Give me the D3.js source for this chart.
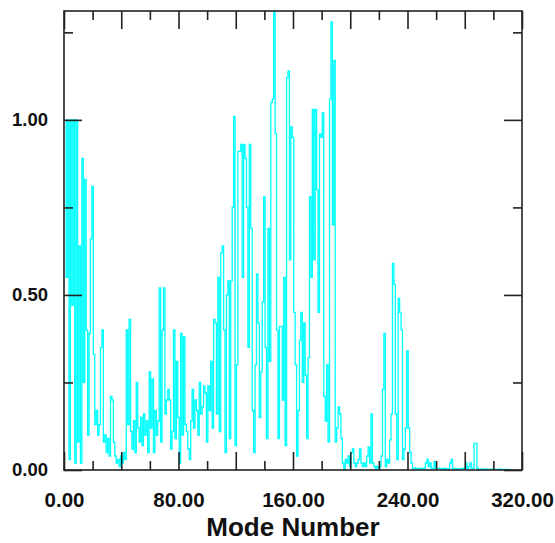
<!DOCTYPE html>
<html>
<head>
<meta charset="utf-8">
<script src="https://cdn.jsdelivr.net/npm/d3@7"></script>
<style>
  html, body { margin: 0; padding: 0; background: #fff; }
  svg { display: block; }
</style>
</head>
<body>
<svg id="chart" width="555" height="543"></svg>
<script>
// ---- data ----
const xLabel = "Mode Number";
const xMajorTicks = [0, 40, 80, 120, 160, 200, 240, 280, 320];
const xMinorTicks = [20, 60, 100, 140, 180, 220, 260, 300];
const xLabelTicks = [0, 80, 160, 240, 320];
const yMajorTicks = [0, 0.5, 1.0];
const yMinorTicks = [0.25, 0.75, 1.25];
// value for mode 1, 2, 3, ...
const modeValues = [
  1.00, 0.55, 1.00, 0.03, 1.00, 0.47, 1.00, 0.02, 1.00, 0.08,
  0.64, 0.02, 0.89, 0.25, 0.83, 0.40, 0.10, 0.39, 0.66, 0.81,
  0.33, 0.13, 0.17, 0.10, 0.13, 0.35, 0.40, 0.08, 0.10, 0.05,
  0.09, 0.04, 0.21, 0.20, 0.08, 0.04, 0.02, 0.03, 0.01, 0.04,
  0.02, 0.05, 0.03, 0.40, 0.13, 0.43, 0.11, 0.06, 0.14, 0.05,
  0.25, 0.12, 0.08, 0.15, 0.07, 0.16, 0.10, 0.14, 0.05, 0.28,
  0.12, 0.26, 0.05, 0.17, 0.10, 0.14, 0.52, 0.08, 0.40, 0.52,
  0.16, 0.20, 0.23, 0.20, 0.06, 0.11, 0.40, 0.09, 0.31, 0.15,
  0.02, 0.39, 0.10, 0.38, 0.13, 0.11, 0.06, 0.03, 0.14, 0.23,
  0.12, 0.20, 0.17, 0.10, 0.25, 0.16, 0.18, 0.24, 0.22, 0.08,
  0.24, 0.17, 0.31, 0.12, 0.43, 0.42, 0.16, 0.55, 0.11, 0.62,
  0.64, 0.40, 0.05, 0.50, 0.54, 0.09, 0.54, 0.75, 1.01, 0.07,
  0.30, 0.91, 0.91, 0.93, 0.55, 0.93, 0.89, 0.75, 0.35, 0.93,
  0.69, 0.17, 0.05, 0.30, 0.56, 0.42, 0.15, 0.28, 0.48, 0.78,
  0.35, 0.09, 0.69, 0.31, 1.05, 1.06, 1.35, 0.96, 0.40, 0.09,
  0.41, 0.41, 0.20, 0.55, 0.07, 1.12, 1.14, 0.60, 0.98, 0.95,
  0.45, 0.30, 0.04, 0.17, 0.37, 0.45, 0.25, 0.42, 0.27, 0.09,
  0.32, 0.78, 0.55, 1.03, 0.60, 1.03, 0.80, 0.45, 0.96, 0.95,
  1.02, 0.21, 0.14, 0.30, 0.08, 1.06, 1.28, 0.70, 1.17, 0.08,
  0.12, 0.18, 0.16, 0.09, 0.02, 0.00, 0.03, 0.02, 0.04, 0.01,
  0.05, 0.06, 0.02, 0.01, 0.02, 0.03, 0.06, 0.02, 0.01, 0.02,
  0.01, 0.04, 0.066, 0.02, 0.16, 0.02, 0.01, 0.005, 0.01, 0.005,
  0.01, 0.04, 0.23, 0.39, 0.01, 0.03, 0.02, 0.086, 0.16, 0.59,
  0.53, 0.16, 0.03, 0.49, 0.45, 0.40, 0.03, 0.06, 0.12, 0.34,
  0.12, 0.05, 0.02, 0.005, 0.003, 0.006, 0.004, 0.003, 0.005, 0.004,
  0.003, 0.005, 0.02, 0.03, 0.01, 0.02, 0.005, 0.004, 0.024, 0.004,
  0.003, 0.005, 0.004, 0.003, 0.004, 0.005, 0.003, 0.004, 0.003, 0.02,
  0.03, 0.005, 0.004, 0.003, 0.004, 0.003, 0.004, 0.003, 0.005, 0.004,
  0.02, 0.005, 0.01, 0.02, 0.005, 0.005, 0.076, 0.076, 0.005, 0.002,
  0.002, 0.003, 0.002, 0.002, 0.003, 0.002, 0.002, 0.002, 0.003, 0.002,
  0.002, 0.002, 0.002, 0.003, 0.002, 0.002, 0.002, 0.002, 0.002, 0.002,
  0.002, 0.002
];

// ---- layout ----
const mLeft = 64, mRight = 522, mTop = 11, mBottom = 470;
const svg = d3.select("#chart");
const x = d3.scaleLinear().domain([0, 320]).range([mLeft, mRight]);
const y = d3.scaleLinear().domain([0, 1.311]).range([mBottom, mTop]);

const data = modeValues.map((v, i) => ({ m: i + 1, v }));

svg.append("defs").append("clipPath").attr("id", "clip")
  .append("rect").attr("x", mLeft).attr("y", mTop)
  .attr("width", mRight - mLeft).attr("height", mBottom - mTop);

svg.append("path")
  .datum(data)
  .attr("clip-path", "url(#clip)")
  .attr("fill", "none")
  .attr("stroke", "#00FFFF")
  .attr("stroke-width", 1.3)
  .attr("stroke-linejoin", "miter")
  .attr("d", d3.line().curve(d3.curveStep).x(d => x(d.m)).y(d => y(d.v)));

const font = "'Liberation Sans', Arial, Helvetica, sans-serif";
const axisColor = "#222";

function styleAxis(g, size) {
  g.select(".domain").remove();
  g.selectAll("line").attr("stroke", axisColor).attr("stroke-width", 1.6);
  g.selectAll("text").attr("fill", "#111").style("font-family", font)
    .style("font-size", (size || 18) + "px").style("font-weight", "bold");
}

const fmt = d => xLabelTicks.includes(d) ? d.toFixed(2) : "";

svg.append("g").attr("transform", `translate(0,${mBottom})`)
  .call(d3.axisBottom(x).tickValues(xMajorTicks).tickSize(-18).tickPadding(22).tickFormat(fmt))
  .call(g => styleAxis(g, 20.5));
svg.append("g").attr("transform", `translate(0,${mBottom})`)
  .call(d3.axisBottom(x).tickValues(xMinorTicks).tickSize(-9).tickFormat(""))
  .call(styleAxis);
svg.append("g").attr("transform", `translate(0,${mTop})`)
  .call(d3.axisTop(x).tickValues(xMajorTicks).tickSize(-18).tickFormat(""))
  .call(styleAxis);
svg.append("g").attr("transform", `translate(0,${mTop})`)
  .call(d3.axisTop(x).tickValues(xMinorTicks).tickSize(-9).tickFormat(""))
  .call(styleAxis);

svg.append("g").attr("transform", `translate(${mLeft},0)`)
  .call(d3.axisLeft(y).tickValues(yMajorTicks).tickSize(-18).tickPadding(16).tickFormat(d => d.toFixed(2)))
  .call(g => styleAxis(g, 18.5));
svg.append("g").attr("transform", `translate(${mLeft},0)`)
  .call(d3.axisLeft(y).tickValues(yMinorTicks).tickSize(-9).tickFormat(""))
  .call(styleAxis);
svg.append("g").attr("transform", `translate(${mRight},0)`)
  .call(d3.axisRight(y).tickValues(yMajorTicks).tickSize(-18).tickFormat(""))
  .call(styleAxis);
svg.append("g").attr("transform", `translate(${mRight},0)`)
  .call(d3.axisRight(y).tickValues(yMinorTicks).tickSize(-9).tickFormat(""))
  .call(styleAxis);

// frame
svg.append("rect")
  .attr("x", mLeft).attr("y", mTop)
  .attr("width", mRight - mLeft).attr("height", mBottom - mTop)
  .attr("fill", "none").attr("stroke", axisColor).attr("stroke-width", 1.6);

svg.append("text")
  .attr("x", (mLeft + mRight) / 2).attr("y", 536)
  .attr("text-anchor", "middle")
  .style("font-family", font).style("font-size", "26px").style("font-weight", "bold")
  .attr("fill", "#111")
  .text(xLabel);
</script>
</body>
</html>
